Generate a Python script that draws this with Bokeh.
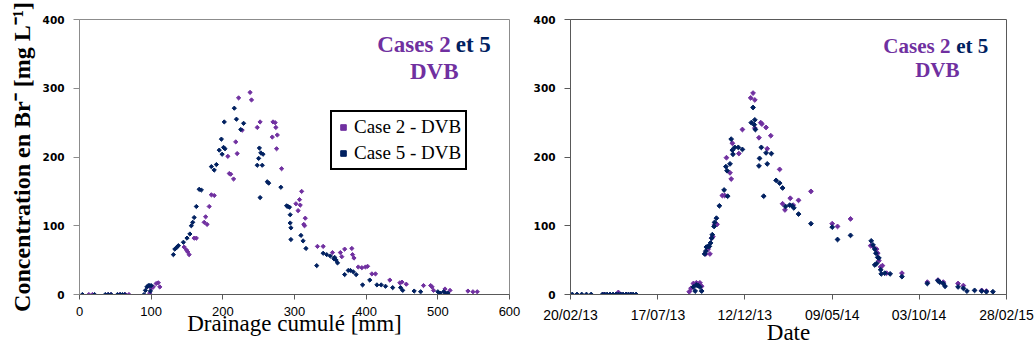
from bokeh.plotting import figure
from bokeh.layouts import row
from bokeh.models import Range1d, FixedTicker, Legend, LegendItem, Label
from bokeh.embed import file_html
from bokeh.resources import INLINE

# ---------------- data ----------------
# Left panel: concentration vs cumulative drainage [mm]
case2_drain = [13, 18, 40, 44, 56, 64, 69,
               98, 100, 103, 107, 110, 112,
               146, 149, 151, 153, 160, 163,
               174, 176, 178, 181, 184, 188,
               207, 209, 211, 215, 218, 220, 222, 227, 238, 240,
               248, 252, 270, 273, 274, 269, 276, 275, 282,
               302, 305, 307, 310, 308, 313, 315, 314,
               332, 340, 353, 364, 366, 370, 380, 381, 383,
               389, 394, 399, 402, 408, 413, 433,
               447, 450, 456, 480, 490, 494, 492, 510, 517,
               542, 549, 555]
case2_conc = [0, 0, 0, 0, 0, 0, 0,
              2, 9, 11, 16, 17, 11,
              69, 65, 62, 58, 82, 82,
              105, 113, 102, 128, 145, 144,
              201, 176, 175, 168, 222, 205, 286, 239, 294, 283,
              243, 251, 251, 250, 243, 229, 232, 212, 183,
              132, 122, 138, 150, 130, 102, 111, 100,
              70, 70, 61, 61, 55, 66, 67, 58, 53,
              40, 39, 40, 41, 30, 30, 21,
              17, 18, 15, 13, 13, 6, 11, 8, 6,
              5, 4, 4]

case5_drain = [4, 21, 36, 40, 44, 53, 57, 60, 63,
               90, 92, 94, 96, 98, 99, 100,
               131, 133, 136, 138, 145, 150, 154, 156, 158, 160, 163, 167, 170,
               184, 188, 191, 195, 198, 199, 201, 203, 202,
               216, 219, 225, 229,
               248, 250, 251, 252, 255, 253, 256, 262, 264, 281,
               289, 291, 293, 294, 294, 295, 295,
               309, 312, 316, 331, 340, 345, 350, 355, 356, 358, 360,
               370, 375, 378, 382, 386, 395, 405, 415, 421, 427,
               437, 448, 451, 467, 476, 500, 503, 508, 511, 514]
case5_conc = [0, 0, 0, 0, 0, 0, 0, 0, 0,
              0, 6, 11, 13, 13, 5, 13,
              58, 66, 69, 71, 76, 82, 88, 100, 105, 112, 128, 153, 152,
              186, 181, 189, 210, 226, 204, 214, 212, 251,
              271, 255, 240, 249,
              188, 198, 213, 141, 188, 206, 204, 164, 162, 156,
              129, 128, 127, 116, 104, 97, 80,
              86, 78, 67, 42, 60, 58, 56, 52, 54, 50, 46,
              29, 35, 35, 33, 29, 14, 21, 14, 14, 12,
              10, 10, 6, 5, 4, 4, 2, 4, 2, 2]

# Right panel: concentration vs date (days since 20/02/13)
case2_days = [56, 67, 77, 81, 85, 94, 102,
              201, 204, 208, 213, 219, 222,
              229, 233, 236, 239, 241, 244, 248, 257, 261,
              264, 270, 272, 274, 285, 291,
              305, 309, 312, 312, 322, 324, 331, 339, 319, 333,
              354, 359, 363, 372, 377, 386, 407,
              443, 452, 474,
              508, 512, 518, 520, 522, 525, 528, 535, 561,
              604, 622, 631, 656, 665, 696, 704]
case2_date_conc = [0, 0, 0, 3, 0, 0, 0,
                   4, 9, 16, 17, 17, 12,
                   59, 66, 59, 82, 84, 102, 102, 144, 144,
                   199, 177, 168, 220, 205, 240,
                   286, 293, 283, 242, 250, 248, 243, 231, 228, 212,
                   182, 132, 123, 140, 130, 137, 150,
                   103, 99, 110,
                   71, 70, 66, 60, 49, 40, 42, 31, 31,
                   18, 21, 18, 16, 13, 6, 5]

case5_days = [3, 11, 19, 27, 35, 54, 58, 62, 67, 72, 77, 81, 85, 89, 94, 98, 102, 106, 111,
              208, 211, 213, 216, 219, 222,
              227, 229, 230, 233, 235, 237, 239, 240, 243, 244, 247, 252, 260, 266,
              263, 265, 270, 272, 274, 275, 278, 284, 291,
              306, 309, 311, 312, 313,
              319, 320, 323, 327, 331, 333, 340,
              348, 354, 359, 364, 371, 375, 378, 386, 407,
              443, 452, 474,
              509, 512, 515, 517, 520, 522, 515, 518, 525, 526, 532, 541, 561,
              604, 622, 625, 631, 634, 656, 665, 671, 684, 696, 704, 715]
case5_date_conc = [0] * 19 + [
              11, 5, 14, 13, 11, 5,
              59, 63, 69, 70, 70, 75, 82, 87, 99, 105, 111, 129, 152, 143,
              186, 180, 190, 226, 210, 204, 214, 214, 211,
              250, 272, 247, 254, 240,
              187, 198, 214, 143, 206, 190, 205,
              166, 162, 155, 128, 130, 129, 126, 117, 103,
              98, 80, 86,
              78, 72, 66, 60, 54, 53, 43, 45, 36, 30, 31, 30, 26,
              16, 20, 18, 16, 12, 11, 9, 5, 6, 5, 4, 4]

x_ticks_drain = [0, 100, 200, 300, 400, 500, 600]
y_ticks = [0, 100, 200, 300, 400]
date_tick_labels = ["20/02/13", "17/07/13", "12/12/13", "09/05/14", "03/10/14", "28/02/15"]
date_span_days = 738

series_labels = ["Case 2 - DVB", "Case 5 - DVB"]
x_title_left = "Drainage cumulé [mm]"
x_title_right = "Date"
y_title = "Concentration en Br\u207b [mg L\u207b\u00b9]"

# ---------------- style ----------------
PURPLE = "#7030A0"
NAVY = "#002060"
SERIF = "Liberation Serif"


def style_axes(p, xfont_size, ycolor, xcolor, xtitle, s_tick, s_label):
    p.xgrid.grid_line_color = None
    p.ygrid.grid_line_color = None
    for ax in (p.xaxis[0], p.yaxis[0]):
        ax.minor_tick_line_color = None
        ax.major_tick_in = 0
        ax.major_label_text_color = "black"
        ax.axis_label_text_color = "black"
    p.yaxis.axis_line_color = ycolor
    p.yaxis.major_tick_line_color = ycolor
    p.xaxis.axis_line_color = xcolor
    p.xaxis.major_tick_line_color = xcolor
    p.yaxis.major_tick_out = 6
    p.xaxis.major_tick_out = 5
    p.yaxis.major_label_text_font = "DejaVu Sans"
    p.yaxis.major_label_text_font_style = "bold"
    p.yaxis.major_label_text_font_size = "10.5px"
    p.yaxis.major_label_standoff = 9
    p.xaxis.major_label_text_font = "Liberation Sans"
    p.xaxis.major_label_text_font_size = xfont_size
    p.xaxis.major_label_standoff = s_tick
    p.yaxis.ticker = FixedTicker(ticks=y_ticks)
    p.xaxis.axis_label = xtitle
    p.xaxis.axis_label_text_font = SERIF
    p.xaxis.axis_label_text_font_style = "normal"
    p.xaxis.axis_label_text_font_size = "23px"
    p.xaxis.axis_label_standoff = s_label


def add_title(p, size, x_end, x_start, x_center, y1, y2):
    kw = dict(text_font=SERIF, text_font_style="bold", text_font_size=size,
              text_baseline="alphabetic")
    p.add_layout(Label(x=x_end, y=y1, text="Cases 2", text_align="right",
                       text_color=PURPLE, **kw))
    p.add_layout(Label(x=x_start, y=y1, text="et 5", text_align="left",
                       text_color=NAVY, **kw))
    p.add_layout(Label(x=x_center, y=y2, text="DVB", text_align="center",
                       text_color=PURPLE, **kw))


# ---------------- left panel ----------------
p1 = figure(width=522, height=347, output_backend="svg", toolbar_location=None,
            x_range=Range1d(0, 600), y_range=Range1d(0, 400),
            min_border_left=79, min_border_right=13, min_border_top=19, min_border_bottom=51)
p1.outline_line_color = "#8c8c8c"
style_axes(p1, "13px", "#8c8c8c", "#595959", x_title_left, 7, -8)
p1.xaxis.ticker = FixedTicker(ticks=x_ticks_drain)
p1.yaxis.axis_label = y_title
p1.yaxis.axis_label_text_font = SERIF
p1.yaxis.axis_label_text_font_style = "bold"
p1.yaxis.axis_label_text_font_size = "24px"
p1.yaxis.axis_label_standoff = 5

r2 = p1.scatter(case2_drain, case2_conc, marker="square", angle=0.785398, size=3.0,
                fill_color=PURPLE, line_color=PURPLE)
r5 = p1.scatter(case5_drain, case5_conc, marker="square", angle=0.785398, size=3.0,
                fill_color=NAVY, line_color=NAVY)
add_title(p1, "23px", 518, 525, 495, 364, 325)

legend = Legend(items=[LegendItem(label=series_labels[0], renderers=[r2]),
                       LegendItem(label=series_labels[1], renderers=[r5])],
                location=(251, 124), orientation="vertical")
legend.border_line_color = "black"
legend.border_line_alpha = 1
legend.border_line_width = 2
legend.background_fill_color = "white"
legend.background_fill_alpha = 1
legend.label_text_font = SERIF
legend.label_text_font_size = "19px"
legend.label_text_color = "black"
legend.padding = 4
legend.spacing = 4
legend.glyph_width = 14
legend.glyph_height = 20
legend.label_height = 20
legend.label_standoff = 4
legend.margin = 0
p1.add_layout(legend, "center")

# ---------------- right panel ----------------
date_ticks = [round(i * date_span_days / (len(date_tick_labels) - 1))
              for i in range(len(date_tick_labels))]
p2 = figure(width=512, height=347, output_backend="svg", toolbar_location=None,
            x_range=Range1d(0, date_span_days), y_range=Range1d(0, 400),
            min_border_left=48, min_border_right=28, min_border_top=15, min_border_bottom=53)
p2.outline_line_color = "#595959"
style_axes(p2, "14px", "#595959", "#595959", x_title_right, 7, -6)
p2.xaxis.ticker = FixedTicker(ticks=date_ticks)
p2.xaxis.major_label_overrides = {t: lab for t, lab in zip(date_ticks, date_tick_labels)}

p2.scatter(case2_days, case2_date_conc, marker="square", angle=0.785398, size=3.4,
           fill_color=PURPLE, line_color=PURPLE)
p2.scatter(case5_days, case5_date_conc, marker="square", angle=0.785398, size=3.4,
           fill_color=NAVY, line_color=NAVY)
add_title(p2, "21px", 643, 653, 621, 361, 327)

layout = row(p1, p2)
open("out.html", "w").write(file_html(layout, INLINE))
